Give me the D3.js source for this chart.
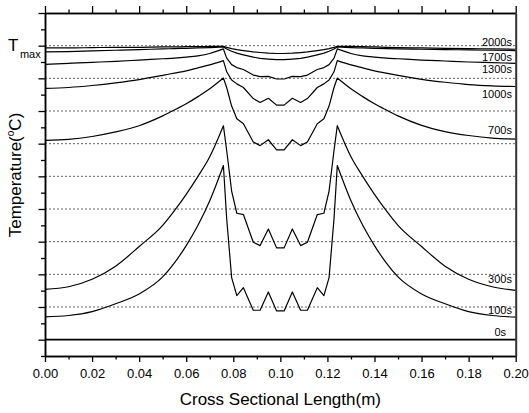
<!DOCTYPE html>
<html>
<head>
<meta charset="utf-8">
<script src="https://cdn.jsdelivr.net/npm/d3@7"></script>
<style>
  body { margin: 0; background: #fff; }
  text { font-family: "Liberation Sans", Arial, sans-serif; fill: #000; }
</style>
</head>
<body>
<svg id="chart" width="529" height="413"></svg>
<script>
  // positions across the cross section (m)
  const xs = [0, 0.01, 0.02, 0.03, 0.04, 0.05, 0.055, 0.06, 0.065, 0.07, 0.0758,
    0.0772, 0.0793, 0.0815, 0.0843, 0.0885, 0.0914, 0.0949, 0.0984,
    0.1016, 0.1051, 0.1086, 0.1115, 0.1157, 0.1185, 0.1207, 0.1228, 0.1242,
    0.13, 0.135, 0.14, 0.145, 0.15, 0.16, 0.17, 0.18, 0.19, 0.20];

  // temperatures in grid units (one dashed line = one unit, 0s line = 0)
  const t0 = [0, 0, 0, 0, 0, 0, 0, 0, 0, 0, 0,
    0, 0, 0, 0, 0, 0, 0, 0,
    0, 0, 0, 0, 0, 0, 0, 0, 0,
    0, 0, 0, 0, 0, 0, 0, 0, 0, 0];
  const t100 = [0.70, 0.74, 0.86, 1.10, 1.40, 1.92, 2.35, 2.88, 3.50, 4.25, 5.33,
    3.70, 1.90, 1.35, 1.59, 0.90, 0.90, 1.46, 0.88,
    0.88, 1.46, 0.90, 0.90, 1.59, 1.35, 1.90, 3.70, 5.33,
    4.25, 3.50, 2.88, 2.35, 1.92, 1.40, 1.10, 0.86, 0.74, 0.69];
  const t300 = [1.54, 1.62, 1.85, 2.25, 2.85, 3.50, 3.95, 4.45, 5.00, 5.60, 6.55,
    5.79, 4.55, 3.87, 3.83, 2.98, 2.88, 3.39, 2.81,
    2.81, 3.39, 2.88, 2.98, 3.83, 3.87, 4.55, 5.79, 6.55,
    5.60, 5.00, 4.45, 3.95, 3.50, 2.85, 2.25, 1.85, 1.62, 1.51];
  const t700 = [6.10, 6.13, 6.22, 6.36, 6.55, 6.85, 7.03, 7.22, 7.44, 7.68, 8.01,
    7.72, 7.15, 6.76, 6.61, 6.05, 5.94, 6.12, 5.81,
    5.81, 6.12, 5.94, 6.05, 6.61, 6.76, 7.15, 7.72, 8.01,
    7.68, 7.44, 7.22, 7.03, 6.85, 6.56, 6.37, 6.25, 6.17, 6.14];
  const t1000 = [7.69, 7.72, 7.78, 7.86, 7.96, 8.09, 8.16, 8.23, 8.32, 8.41, 8.54,
    8.20, 7.95, 7.83, 7.72, 7.38, 7.26, 7.39, 7.18,
    7.18, 7.39, 7.26, 7.38, 7.72, 7.83, 7.95, 8.20, 8.54,
    8.41, 8.32, 8.23, 8.16, 8.09, 7.97, 7.88, 7.81, 7.77, 7.75];
  const t1300 = [8.43, 8.46, 8.49, 8.52, 8.56, 8.60, 8.62, 8.65, 8.69, 8.76, 8.90,
    8.62, 8.42, 8.33, 8.27, 8.10, 8.05, 8.06, 7.98,
    7.98, 8.06, 8.05, 8.10, 8.27, 8.33, 8.42, 8.62, 8.90,
    8.76, 8.69, 8.65, 8.62, 8.60, 8.56, 8.53, 8.50, 8.48, 8.46];
  const t1700 = [8.81, 8.82, 8.84, 8.86, 8.88, 8.90, 8.91, 8.92, 8.93, 8.94, 8.96,
    8.90, 8.83, 8.77, 8.72, 8.65, 8.61, 8.59, 8.57,
    8.57, 8.59, 8.61, 8.65, 8.72, 8.77, 8.83, 8.90, 8.96,
    8.94, 8.93, 8.92, 8.91, 8.90, 8.89, 8.88, 8.87, 8.86, 8.85];
  const t2000 = [8.93, 8.93, 8.94, 8.95, 8.95, 8.96, 8.96, 8.97, 8.97, 8.98, 8.98,
    8.95, 8.91, 8.88, 8.85, 8.81, 8.79, 8.77, 8.76,
    8.76, 8.77, 8.79, 8.81, 8.85, 8.88, 8.91, 8.95, 8.98,
    8.98, 8.97, 8.96, 8.95, 8.94, 8.93, 8.92, 8.91, 8.90, 8.89];

  const series = [
    { name: '0s', values: t0 },
    { name: '100s', values: t100 },
    { name: '300s', values: t300 },
    { name: '700s', values: t700 },
    { name: '1000s', values: t1000 },
    { name: '1300s', values: t1300 },
    { name: '1700s', values: t1700 },
    { name: '2000s', values: t2000 },
  ];

  // series labels near the right edge: text, x of text end, baseline in grid units
  const labelText = ['2000s', '1700s', '1300s', '1000s', '700s', '300s', '100s', '0s'];
  const labelX = [0.1984, 0.1984, 0.1984, 0.1984, 0.1984, 0.1984, 0.1984, 0.1959];
  const labelV = [9.0, 8.52, 8.15, 7.40, 6.30, 1.74, 0.80, 0.11];

  const xMajor = [0, 0.02, 0.04, 0.06, 0.08, 0.10, 0.12, 0.14, 0.16, 0.18, 0.20];
  const xMinor = [0.01, 0.03, 0.05, 0.07, 0.09, 0.11, 0.13, 0.15, 0.17, 0.19];
  const yMajor = [0, 1, 2, 3, 4, 5, 6, 7, 8, 9, 10];
  const yMinor = [-0.5, 0.5, 1.5, 2.5, 3.5, 4.5, 5.5, 6.5, 7.5, 8.5, 9.5];
  const gridV = [1, 2, 3, 4, 5, 6, 7, 8, 9];

  const svg = d3.select('#chart');
  const plotLeft = 45, plotRight = 515.7, plotTop = 13, plotBottom = 356;

  const x = d3.scaleLinear().domain([0, 0.2]).range([plotLeft, plotRight]);
  const y = d3.scaleLinear().domain([-0.5, 10]).range([plotBottom, plotTop]);

  // dashed grid
  svg.append('g').selectAll('line')
    .data(gridV)
    .enter()
    .append('line')
    .attr('x1', plotLeft).attr('x2', plotRight)
    .attr('y1', function (d) { return y(d) }).attr('y2', function (d) { return y(d) })
    .attr('stroke', '#666')
    .attr('stroke-width', 1)
    .attr('stroke-dasharray', '2,2');

  // curves: smooth flanks, straight segments through the sample region
  const smooth = d3.line()
    .x(function (d) { return x(d[0]) })
    .y(function (d) { return y(d[1]) })
    .curve(d3.curveMonotoneX);
  const straight = d3.line()
    .x(function (d) { return x(d[0]) })
    .y(function (d) { return y(d[1]) });

  function curvePath(values) {
    const pts = values.map(function (v, i) { return [xs[i], v] });
    const leftPeak = xs.indexOf(0.0758), rightPeak = xs.indexOf(0.1242);
    return smooth(pts.slice(0, leftPeak + 1))
      + straight(pts.slice(leftPeak, rightPeak + 1)).replace(/^M/, 'L')
      + smooth(pts.slice(rightPeak)).replace(/^M/, 'L');
  }

  svg.append('g').selectAll('path')
    .data(series)
    .enter()
    .append('path')
    .attr('d', function (d) { return curvePath(d.values) })
    .attr('fill', 'none')
    .attr('stroke', '#000')
    .attr('stroke-width', function (d) { return d.name === '0s' ? 1.6 : 1.2 })
    .attr('stroke-linejoin', 'round');

  // axes
  function styleAxis(g) {
    g.select('.domain').attr('stroke', '#000').attr('stroke-width', 1.5);
    g.selectAll('.tick line').attr('stroke', '#000').attr('stroke-width', 1.3);
  }

  svg.append('g')
    .attr('transform', 'translate(0,' + plotBottom + ')')
    .call(d3.axisBottom(x).tickValues(xMajor).tickSize(6).tickSizeOuter(0).tickPadding(7)
      .tickFormat(d3.format('.2f')))
    .call(styleAxis)
    .call(function (g) {
      g.selectAll('text').attr('font-size', 13).attr('font-family', '"Liberation Sans", Arial, sans-serif');
    });
  svg.append('g')
    .attr('transform', 'translate(0,' + plotBottom + ')')
    .call(d3.axisBottom(x).tickValues(xMinor).tickSize(3.5).tickSizeOuter(0).tickFormat(''))
    .call(styleAxis);

  svg.append('g')
    .attr('transform', 'translate(0,' + plotTop + ')')
    .call(d3.axisTop(x).tickValues(xMajor).tickSize(7).tickSizeOuter(0).tickFormat(''))
    .call(styleAxis);
  svg.append('g')
    .attr('transform', 'translate(0,' + plotTop + ')')
    .call(d3.axisTop(x).tickValues(xMinor).tickSize(3.5).tickSizeOuter(0).tickFormat(''))
    .call(styleAxis);

  svg.append('g')
    .attr('transform', 'translate(' + plotLeft + ',0)')
    .call(d3.axisLeft(y).tickValues(yMajor).tickSize(6.5).tickSizeOuter(0).tickFormat(''))
    .call(styleAxis);
  svg.append('g')
    .attr('transform', 'translate(' + plotLeft + ',0)')
    .call(d3.axisLeft(y).tickValues(yMinor).tickSize(4).tickSizeOuter(0).tickFormat(''))
    .call(styleAxis);

  svg.append('g')
    .attr('transform', 'translate(' + plotRight + ',0)')
    .call(d3.axisRight(y).tickValues([]).tickSizeOuter(0))
    .call(function (g) { g.select('.domain').attr('stroke', '#333').attr('stroke-width', 2); });

  // series labels
  svg.append('g').selectAll('text')
    .data(labelText)
    .enter()
    .append('text')
    .attr('x', function (d, i) { return x(labelX[i]) })
    .attr('y', function (d, i) { return y(labelV[i]) })
    .attr('text-anchor', 'end')
    .attr('font-size', 11)
    .text(function (d) { return d });

  // axis titles
  svg.append('text')
    .attr('x', (plotLeft + plotRight) / 2)
    .attr('y', 405)
    .attr('text-anchor', 'middle')
    .attr('font-size', 17)
    .text('Cross Sectional Length(m)');

  const yTitle = svg.append('text')
    .attr('transform', 'translate(20.5,175) rotate(-90)')
    .attr('text-anchor', 'middle')
    .attr('font-size', 17);
  yTitle.append('tspan').text('Temperature(');
  yTitle.append('tspan').attr('font-size', 10).attr('dy', -7).text('o');
  yTitle.append('tspan').attr('dy', 7).text('C)');

  const tmax = svg.append('text')
    .attr('x', 8)
    .attr('y', 50.7)
    .attr('font-size', 17);
  tmax.append('tspan').text('T');
  tmax.append('tspan').attr('font-size', 11).attr('dx', 1.5).attr('dy', 7.6).text('max');
</script>
</body>
</html>
